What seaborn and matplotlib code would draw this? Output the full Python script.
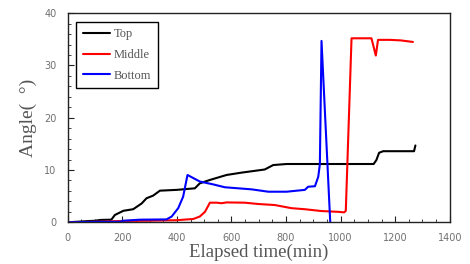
import numpy as np
import pandas as pd
import matplotlib
matplotlib.use("Agg")
import matplotlib.pyplot as plt
from matplotlib.ticker import MultipleLocator
import seaborn as sns

# ---- data ----
top_t = [0, 50, 100, 120, 160, 173, 204, 240, 271, 289, 313, 338, 399, 466, 484, 521,
         582, 637, 722, 753, 802, 900, 1000, 1121, 1131, 1141, 1156, 1200, 1269, 1274]
top_a = [0.0, 0.15, 0.3, 0.45, 0.5, 1.4, 2.2, 2.5, 3.6, 4.6, 5.1, 6.05, 6.2, 6.5, 7.45, 8.1,
         9.05, 9.5, 10.1, 10.95, 11.15, 11.15, 11.15, 11.15, 11.9, 13.3, 13.6, 13.6, 13.6, 14.7]

mid_t = [0, 100, 204, 300, 399, 460, 484, 503, 521, 546, 564, 582, 649, 698, 759, 820,
         869, 930, 991, 1013, 1019, 1040, 1113, 1129, 1137, 1180, 1220, 1265]
mid_a = [0.0, 0.1, 0.25, 0.3, 0.4, 0.63, 1.1, 2.0, 3.75, 3.75, 3.65, 3.8, 3.75, 3.5, 3.3, 2.7,
         2.5, 2.15, 2.0, 1.9, 2.2, 35.2, 35.2, 31.9, 34.9, 34.9, 34.8, 34.5]

bot_t = [0, 120, 192, 204, 265, 362, 381, 405, 423, 439, 484, 533, 576, 674, 735, 802,
         869, 881, 906, 918, 924, 930, 962]
bot_a = [0.0, 0.1, 0.1, 0.3, 0.5, 0.55, 1.1, 2.7, 4.9, 9.05, 7.8, 7.25, 6.7, 6.3, 5.85, 5.85,
         6.2, 6.8, 6.9, 8.7, 11.1, 34.7, 0.0]

series_names = ["Top", "Middle", "Bottom"]
series_colors = ["#000000", "#ff0000", "#0000ff"]
x_ticks = [0, 200, 400, 600, 800, 1000, 1200, 1400]
y_ticks = [0, 10, 20, 30, 40]

df = pd.concat([
    pd.DataFrame({"t": top_t, "a": top_a, "s": "Top", "o": range(len(top_t))}),
    pd.DataFrame({"t": mid_t, "a": mid_a, "s": "Middle", "o": range(len(mid_t))}),
    pd.DataFrame({"t": bot_t, "a": bot_a, "s": "Bottom", "o": range(len(bot_t))}),
], ignore_index=True)

sns.set_style("ticks")
plt.rcParams["font.family"] = ["DejaVu Sans"]

fig = plt.figure(figsize=(4.70, 2.64), dpi=100)
ax = fig.add_axes([0.144, 0.158, 0.813, 0.792])

sns.lineplot(data=df, x="t", y="a", hue="s", hue_order=series_names,
             palette=dict(zip(series_names, series_colors)), sort=False,
             estimator=None, units="s", linewidth=1.5, ax=ax)

ax.set_xlim(0, 1400)
ax.set_ylim(0, 40)
ax.set_xticks(x_ticks)
ax.set_yticks(y_ticks)
ax.xaxis.set_minor_locator(MultipleLocator(50))
ax.yaxis.set_minor_locator(MultipleLocator(2))
ax.tick_params(which="both", direction="in", top=False, right=False, color="#222222")
ax.tick_params(which="major", length=4, width=0.8, labelsize=7, labelcolor="#707070", pad=8)
ax.tick_params(which="minor", length=2.5, width=0.6)
for sp in ax.spines.values():
    sp.set_visible(True)
    sp.set_color("#222222")
    sp.set_linewidth(1.0)

ax.set_xlabel("Elapsed time(min)", family="Liberation Serif", fontsize=13.5,
              color="#555555", labelpad=0)
ax.set_ylabel("Angle(  °)", family="Liberation Serif", fontsize=14,
              color="#555555", labelpad=5)

leg = ax.legend(loc="upper left", frameon=True, fancybox=False, framealpha=1,
                edgecolor="black", prop={"family": "Liberation Serif", "size": 9},
                handlelength=2.2, handletextpad=0.3, labelspacing=0.7,
                borderaxespad=0.7, borderpad=0.5)
leg.get_frame().set_linewidth(1.0)
for txt in leg.get_texts():
    txt.set_color("#555555")
for ln in leg.get_lines():
    ln.set_linewidth(1.5)

fig.savefig("out.png", dpi=100)
